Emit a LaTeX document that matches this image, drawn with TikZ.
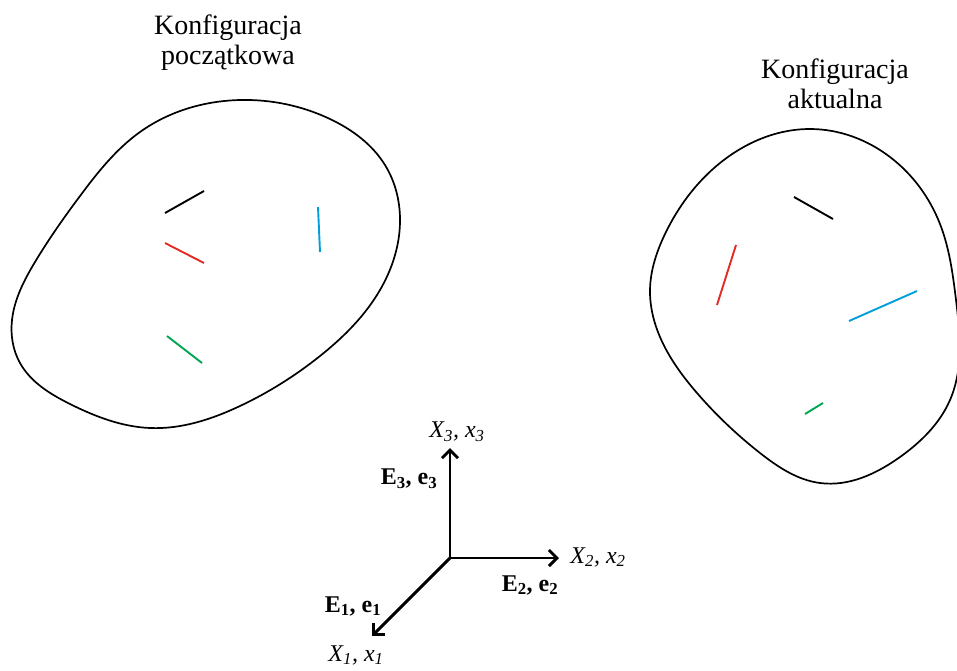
\documentclass[tikz,border=0pt]{standalone}
\usepackage{fontspec}
\setmainfont{Liberation Serif}
\usetikzlibrary{arrows.meta,hobby}
\definecolor{segred}{RGB}{228,42,36}
\definecolor{segblue}{RGB}{0,158,219}
\definecolor{seggreen}{RGB}{0,166,81}
\begin{document}
\begin{tikzpicture}[x=1pt,y=-1pt,
  blob/.style={line width=1.7pt},
  seg/.style={line width=1.9pt},
  axis/.style={line width=2.9pt,-{Straight Barb[length=8pt,width=16pt]}},
  title/.style={font=\fontsize{28}{30}\selectfont, align=center, inner sep=0pt},
  lab/.style={font=\fontsize{24}{26}\selectfont, inner sep=0pt}]
\useasboundingbox (0,0) rectangle (957,670);
% titles
\node[title] (t1) at (228,43) {Konfiguracja\\początkowa};
\node[title] (t2) at (835,84) {Konfiguracja\\aktualna};
% left body
\draw[blob, use Hobby shortcut, closed=true] (240,100) .. (330,119) .. (385,165)
 .. (400,222) .. (380,290) .. (320,356) .. (240,406) .. (150,428) .. (70,404)
 .. (20,363) .. (12,320) .. (35,262) .. (80,196) .. (140,132);
% right body
\draw[blob, use Hobby shortcut, closed=true] (810,129) .. (890,157) .. (940,224)
 .. (956,300) .. (950,400) .. (900,457) .. (820,483) .. (760,453) .. (697,393)
 .. (660,337) .. (650,290) .. (665,234) .. (720,163);
% segments left
\draw[seg] (165,213) -- (204,191);
\draw[seg,segred] (165,243) -- (204,263);
\draw[seg,segblue] (318,207) -- (320,252);
\draw[seg,seggreen] (167,336) -- (202,363);
% segments right
\draw[seg] (794,197) -- (833,219);
\draw[seg,segred] (736,245) -- (717,305);
\draw[seg,segblue] (849,321) -- (917,291);
\draw[seg,seggreen] (805,414) -- (823,403);
% axes
\coordinate (O) at (450,558);
\coordinate (A3) at (450,448);
\coordinate (A2) at (559,558);
\coordinate (A1) at (372,636);
\draw[axis] (O) -- (A3);
\draw[axis] (O) -- (A2);
\draw[axis] (O) -- (A1);
\node[lab] (x3) at (457,432) {\textit{X\textsubscript{3}, x\textsubscript{3}}};
\node[lab] (x2) at (598,557) {\textit{X\textsubscript{2}, x\textsubscript{2}}};
\node[lab] (x1) at (356,655) {\textit{X\textsubscript{1}, x\textsubscript{1}}};
\node[lab] (e3) at (409,479) {\textbf{E\textsubscript{3}, e\textsubscript{3}}};
\node[lab] (e2) at (530,585) {\textbf{E\textsubscript{2}, e\textsubscript{2}}};
\node[lab] (e1) at (353,606) {\textbf{E\textsubscript{1}, e\textsubscript{1}}};
\end{tikzpicture}
\end{document}
